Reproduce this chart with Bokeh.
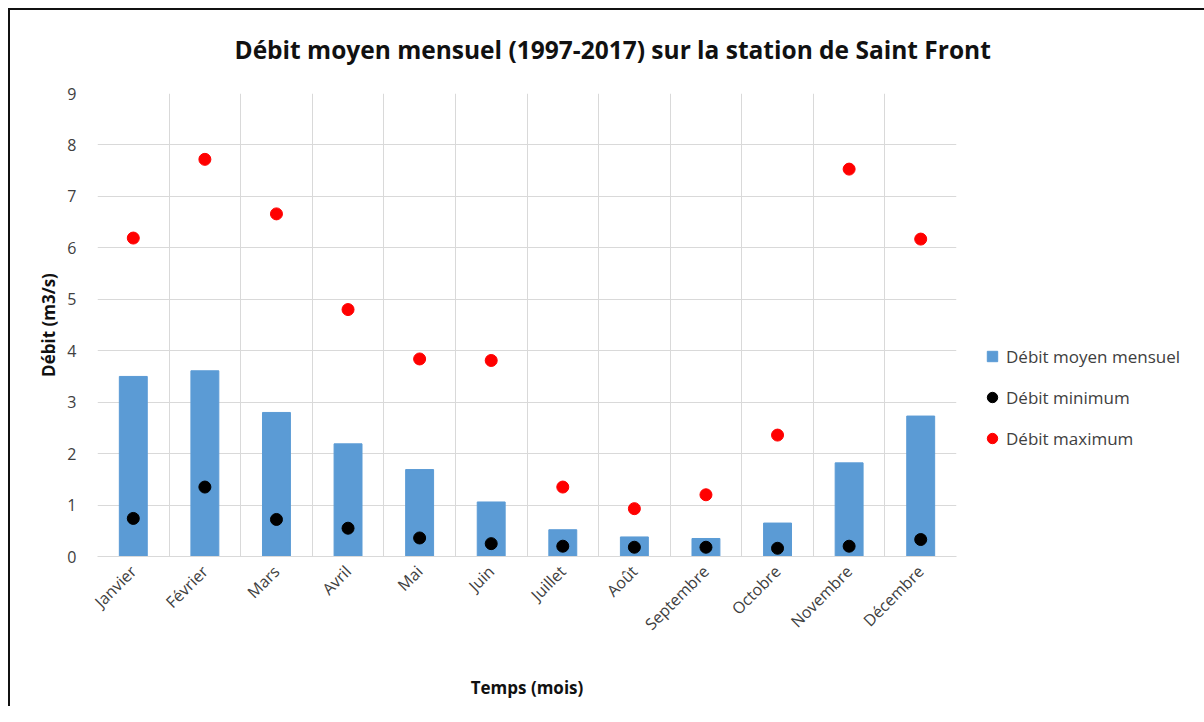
import math
from bokeh.plotting import figure
from bokeh.models import (ColumnDataSource, FixedTicker, Grid, Legend, LegendItem,
                          Range1d, Title)
from bokeh.embed import file_html
from bokeh.resources import INLINE

months = ["Janvier", "Février", "Mars", "Avril", "Mai", "Juin", "Juillet",
          "Août", "Septembre", "Octobre", "Novembre", "Décembre"]
debit_moyen = [3.50, 3.61, 2.80, 2.19, 1.69, 1.06, 0.52, 0.38, 0.35, 0.65, 1.82, 2.73]
debit_min = [0.74, 1.35, 0.72, 0.55, 0.36, 0.25, 0.20, 0.18, 0.18, 0.16, 0.20, 0.33]
debit_max = [6.19, 7.72, 6.66, 4.80, 3.84, 3.81, 1.35, 0.93, 1.20, 2.36, 7.53, 6.17]
y_ticks = list(range(0, 10))

xs = list(range(len(months)))
src = ColumnDataSource(dict(x=xs, moy=debit_moyen, mn=debit_min, mx=debit_max))

FONT = "Open Sans"
BLUE, RED = "#5B9BD5", "#FF0000"
W, H = 1188, 706
FL, FT, FW, FH = 97, 93, 859, 463
p = figure(frame_width=FW, frame_height=FH, output_backend="svg", toolbar_location=None,
           x_range=Range1d(-0.5, len(months) - 0.5), y_range=Range1d(0, 9),
           min_border_left=FL, min_border_right=W - FL - FW,
           min_border_top=FT, min_border_bottom=H - FT - FH)
p.styles = {"background": "linear-gradient(#111,#111) 8px 8px / 2px 100% no-repeat, "
                          "linear-gradient(#111,#111) 8px 8px / 100% 2px no-repeat, #ffffff"}
p.outline_line_color = None
p.background_fill_color = "white"
p.border_fill_color = None

# title
t = Title(text="Débit moyen mensuel (1997-2017) sur la station de Saint Front",
          align="left", offset=137, text_font=FONT, text_font_size="24.5px",
          text_font_style="bold", text_color="#111111", standoff=56)
p.add_layout(t, "above")
p.title.visible = False

# grids
p.xgrid.visible = False
p.ygrid.ticker = FixedTicker(ticks=y_ticks)
p.ygrid.grid_line_color = "#D9D9D9"
p.ygrid.grid_line_width = 1
vgrid = Grid(dimension=0, ticker=FixedTicker(ticks=[i - 0.5 for i in range(len(months) + 1)]),
             grid_line_color="#D9D9D9", grid_line_width=1)
p.add_layout(vgrid)

# axes
xa = p.xaxis[0]
xa.ticker = FixedTicker(ticks=xs)
xa.major_label_overrides = {i: m for i, m in enumerate(months)}
xa.major_label_orientation = math.pi / 4
xa.major_label_text_font = FONT
xa.major_label_text_font_size = "16px"
xa.major_label_text_color = "#404040"
xa.major_tick_line_color = None
xa.minor_tick_line_color = None
xa.axis_line_color = "#D9D9D9"
xa.axis_label = "Temps (mois)"
xa.axis_label_text_font = FONT
xa.axis_label_text_font_size = "17px"
xa.axis_label_text_font_style = "bold"
xa.axis_label_text_color = "#111111"
xa.axis_label_standoff = 31
xa.major_label_standoff = 6

ya = p.yaxis[0]
ya.ticker = FixedTicker(ticks=y_ticks)
ya.major_label_text_font = FONT
ya.major_label_text_font_size = "16px"
ya.major_label_text_color = "#404040"
ya.major_tick_line_color = None
ya.minor_tick_line_color = None
ya.axis_line_color = None
ya.major_label_standoff = 15
ya.axis_label = "Débit (m3/s)"
ya.axis_label_text_font = FONT
ya.axis_label_text_font_size = "17px"
ya.axis_label_text_font_style = "bold"
ya.axis_label_text_color = "#111111"
ya.axis_label_standoff = 4

bars = p.vbar(x="x", top="moy", bottom=0, width=0.39, source=src,
              fill_color=BLUE, line_color=BLUE)
mins = p.scatter(x="x", y="mn", source=src, size=12, marker="circle",
                 fill_color="black", line_color="black")
maxs = p.scatter(x="x", y="mx", source=src, size=12, marker="circle",
                 fill_color=RED, line_color=RED)

# square swatch used only by the legend (size 0: invisible on the plot)
bar_key = p.scatter(x="x", y="moy", source=src, marker="square", size=0,
                    fill_color=BLUE, line_color=BLUE)

legend = Legend(items=[LegendItem(label="Débit moyen mensuel", renderers=[bar_key]),
                       LegendItem(label="Débit minimum", renderers=[mins]),
                       LegendItem(label="Débit maximum", renderers=[maxs])],
                location=(23, 105), orientation="vertical",
                label_text_font=FONT, label_text_font_size="17px",
                label_text_color="#404040", glyph_width=26, glyph_height=26,
                spacing=15, label_standoff=1, border_line_color=None,
                background_fill_alpha=0, padding=0, margin=0)
p.add_layout(legend, "right")

open("out.html", "w").write(file_html(p, INLINE))
